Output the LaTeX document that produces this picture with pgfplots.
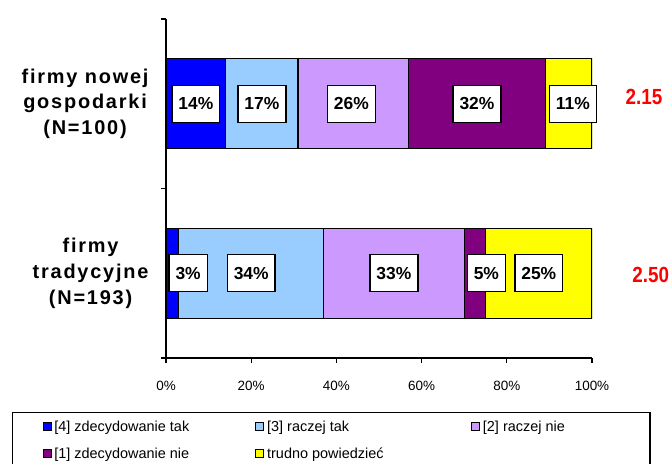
\documentclass[border=0pt]{standalone}
\usepackage{pgfplots}
\pgfplotsset{compat=1.18}
\usepackage{pgfplotstable}
\usepackage{fontspec}
\setmainfont{Liberation Sans}
\newfontfamily\catfont[LetterSpace=9]{Liberation Sans}

\definecolor{czt}{HTML}{0000FF}
\definecolor{crt}{HTML}{99CCFF}
\definecolor{crn}{HTML}{CC99FF}
\definecolor{czn}{HTML}{800080}
\definecolor{ctp}{HTML}{FFFF00}
\definecolor{cred}{HTML}{FF0000}

% shares per group (y = category position, 0.5 top, 1.5 bottom)
\pgfplotstableread{
y   v4  v3  v2  v1  vt
0.5 14  17  26  32  11
1.5  3  34  33   5  25
}\shares

% label positions for the boxed percentages
\pgfplotstableread{
x    y   v
7    0.5 14
22.5 0.5 17
43.5 0.5 26
73   0.5 32
95.5 0.5 11
5.2  1.5 3
20   1.5 34
53.5 1.5 33
75.2 1.5 5
87.5 1.5 25
}\labs

\pgfplotstableread{
x     y    v
112.2 0.46 2.15
113.8 1.51 2.50
}\means

\begin{document}
\begin{tikzpicture}
\path[use as bounding box] (0,0) rectangle (671bp,464bp);
\begin{axis}[
    at={(166bp,106bp)}, anchor=south west,
    scale only axis, width=426bp, height=339bp,
    xmin=0, xmax=100, ymin=0, ymax=2, y dir=reverse,
    xbar stacked, bar width=90bp,
    axis x line*=bottom, axis y line*=left,
    axis line style={line width=1.3bp},
    tick align=outside, major tick length=5bp,
    tick style={line width=1.1bp, black},
    xtick={0,20,40,60,80,100},
    xticklabels={0\%,20\%,40\%,60\%,80\%,100\%},
    xticklabel style={font=\fontsize{13.5}{16}\selectfont, yshift=-15bp},
    ytick={0,1,2}, yticklabels={,,},
    extra y ticks={0.5,1.5},
    extra y tick labels={{firmy nowej\\gospodarki\\(N=100)},{firmy\\tradycyjne\\(N=193)}},
    extra y tick style={major tick length=0pt,
        yticklabel style={align=center, xshift=-14bp,
        font=\catfont\bfseries\fontsize{20}{26}\selectfont}},
    legend style={at={(-0.3615,-0.1593)}, anchor=north west,
        draw=black, line width=1.1bp,
        font=\fontsize{14.5}{16}\selectfont,
        inner xsep=30bp, inner ysep=6bp, row sep=11bp, column sep=0bp,
        nodes={inner ysep=2bp, inner xsep=3bp},
        /tikz/every odd column/.append style={column sep=0bp}},
    legend columns=3,
    legend cell align=left,
    legend image code/.code={\draw[#1, line width=0.8bp] (0bp,-4bp) rectangle (8bp,4bp);},
]
\addplot[fill=czt, draw=black, line width=1.2bp] table[x=v4, y=y] {\shares};
\addlegendentry{\makebox[198bp][l]{[4] zdecydowanie tak}}
\addplot[fill=crt, draw=black, line width=1.2bp] table[x=v3, y=y] {\shares};
\addlegendentry{\makebox[201bp][l]{[3] raczej tak}}
\addplot[fill=crn, draw=black, line width=1.2bp] table[x=v2, y=y] {\shares};
\addlegendentry{\makebox[134bp][l]{[2] raczej nie}}
\addplot[fill=czn, draw=black, line width=1.2bp] table[x=v1, y=y] {\shares};
\addlegendentry{\makebox[198bp][l]{[1] zdecydowanie nie}}
\addplot[fill=ctp, draw=black, line width=1.2bp] table[x=vt, y=y] {\shares};
\addlegendentry{\makebox[201bp][l]{trudno powiedzieć}}
\end{axis}
\begin{axis}[
    at={(166bp,106bp)}, anchor=south west,
    scale only axis, width=426bp, height=339bp,
    xmin=0, xmax=100, ymin=0, ymax=2, y dir=reverse,
    hide axis, clip=false,
]
\addplot[only marks, mark=*, mark size=0pt, mark options={draw=none, fill=none},
    point meta=explicit symbolic,
    nodes near coords={\pgfplotspointmeta\%},
    every node near coord/.style={anchor=center, fill=white, draw=black,
        line width=1.4bp, minimum height=37bp, inner xsep=6.5bp, text=black,
        font=\bfseries\fontsize{17.5}{17.5}\selectfont},
] table[x=x, y=y, meta=v] {\labs};
\addplot[only marks, mark=*, mark size=0pt, mark options={draw=none, fill=none},
    point meta=explicit symbolic,
    nodes near coords={\scalebox{0.86}[1]{\pgfplotspointmeta}},
    every node near coord/.style={anchor=center, text=cred,
        font=\bfseries\fontsize{22}{22}\selectfont},
] table[x=x, y=y, meta=v] {\means};
\end{axis}
\end{tikzpicture}
\end{document}
